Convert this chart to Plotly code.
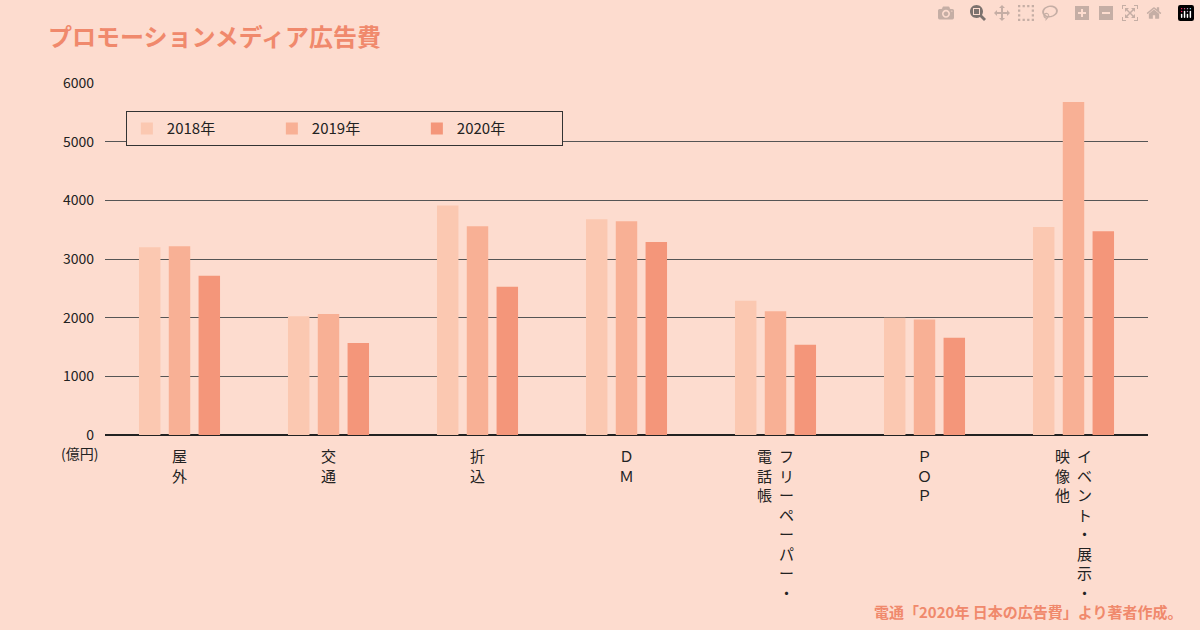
import plotly.graph_objects as go

categories = ["屋外", "交通", "折込", "DM", "フリーペーパー・電話帳", "POP", "イベント・展示・映像他"]
years = ["2018年", "2019年", "2020年"]
v2018 = [3199, 2025, 3911, 3678, 2287, 2000, 3547]
v2019 = [3219, 2062, 3559, 3642, 2110, 1970, 5677]
v2020 = [2715, 1568, 2525, 3290, 1539, 1658, 3473]
label_columns = [["屋外"], ["交通"], ["折込"], ["ＤＭ"], ["フリーペーパー・", "電話帳"], ["ＰＯＰ"], ["イベント・展示・", "映像他"]]
colors = ["#fbc8b1", "#f8b095", "#f4967a"]
bg = "#fddccf"
font = "Noto Sans CJK JP"

fig = go.Figure()
for name, vals, c in zip(years, [v2018, v2019, v2020], colors):
    fig.add_trace(go.Bar(x=categories, y=vals, name=name, marker_color=c, marker_line_width=0))

for cat, cols in zip(categories, label_columns):
    n = len(cols)
    for i, col in enumerate(cols):
        shift = (n - 1) * 11 - i * 22
        fig.add_annotation(x=cat, y=0, xref="x", yref="y", yanchor="top", yshift=-8, xshift=shift,
                           text="<br>".join(col), showarrow=False, align="center",
                           font=dict(size=15, color="#222", family=font))

fig.add_annotation(x=-0.005, y=0, xref="paper", yref="y", xanchor="right", yanchor="top", yshift=-6,
                   text="(億円)", showarrow=False, font=dict(size=14, color="#222", family=font))
fig.add_annotation(x=1.035, y=-0.50, xref="paper", yref="paper", xanchor="right", yanchor="middle",
                   text="<b>電通「2020年 日本の広告費」より著者作成。</b>", showarrow=False,
                   font=dict(size=15, color="#f0896c", family=font))

fig.update_layout(
    width=1200, height=630, paper_bgcolor=bg, plot_bgcolor=bg,
    margin=dict(l=105, r=52, t=83, b=195),
    title=dict(text="<b>プロモーションメディア広告費</b>", x=0.04, xanchor="left", y=0.94, yanchor="middle",
               font=dict(size=24, color="#f0896c", family=font)),
    barmode="group", bargap=0.4, bargroupgap=0.28,
    font=dict(family=font, color="#222"),
    legend=dict(orientation="h", x=0.02, y=0.92, xanchor="left", yanchor="top",
                bgcolor=bg, bordercolor="#333", borderwidth=1, font=dict(size=15),
                itemwidth=30, entrywidth=100, tracegroupgap=0),
    xaxis=dict(showticklabels=False, showgrid=False, zeroline=False, showline=False),
    yaxis=dict(range=[0, 6000], dtick=1000, tickfont=dict(size=14), gridcolor="#555", gridwidth=1,
               zeroline=True, zerolinecolor="#222", zerolinewidth=2, ticks="", ticklabelstandoff=10),
)
fig.write_html("out.html", post_script="document.body.style.margin='0';document.body.style.background='%s';" % bg)
